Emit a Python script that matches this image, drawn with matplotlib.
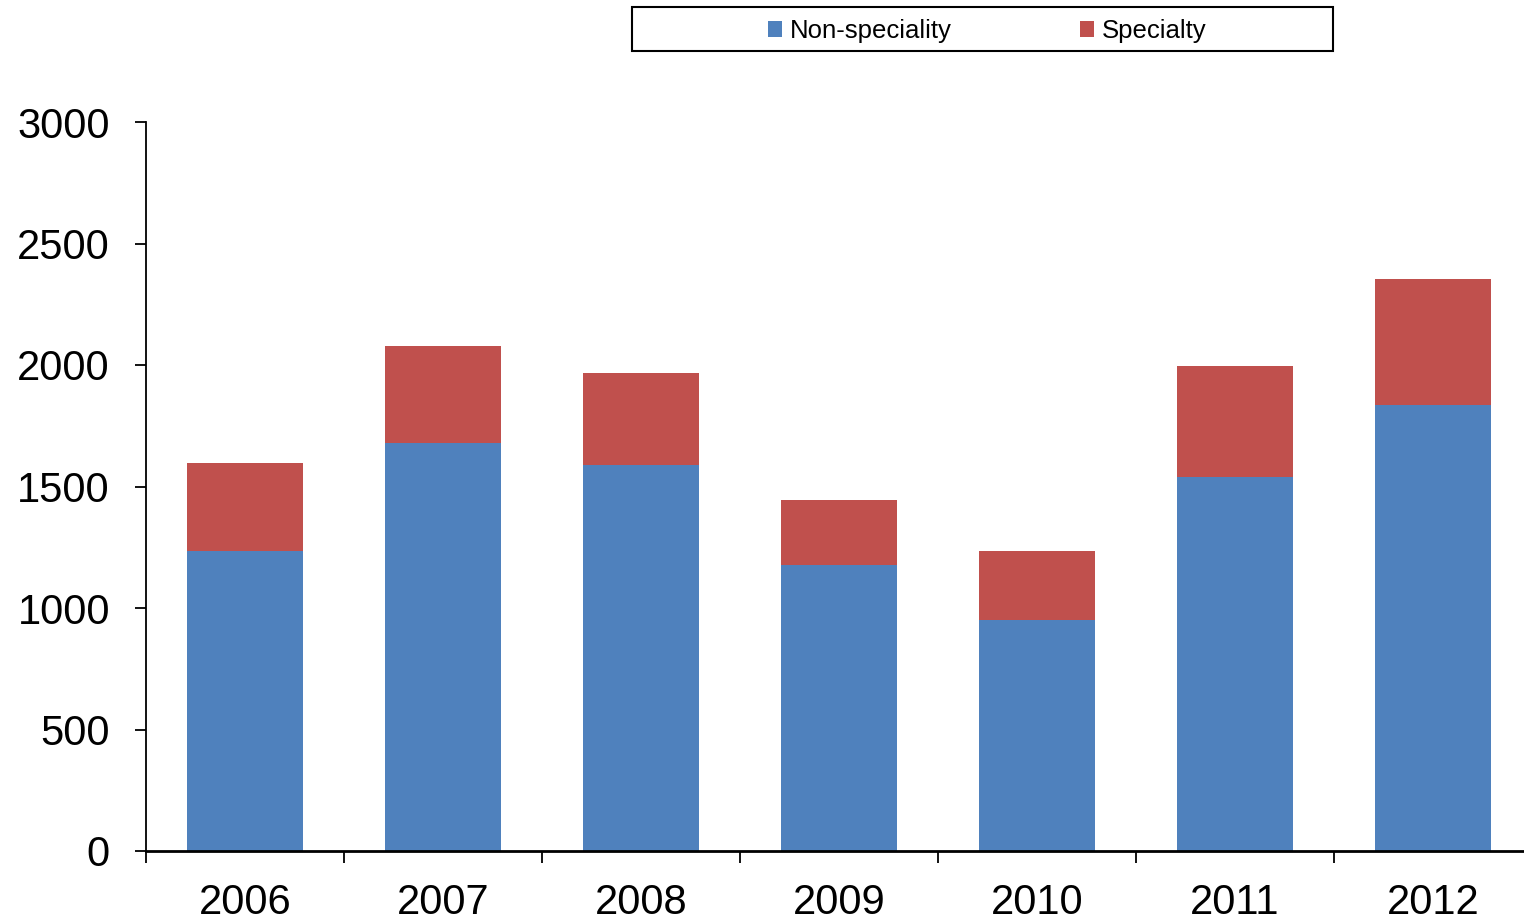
import numpy as np
import matplotlib.pyplot as plt
from matplotlib.patches import Rectangle

plt.rcParams['font.family'] = ['Liberation Sans', 'DejaVu Sans']

years = ['2006', '2007', '2008', '2009', '2010', '2011', '2012']
non_speciality = [1235, 1679, 1588, 1177, 951, 1539, 1835]
specialty = [362, 399, 379, 267, 284, 457, 519]

colors = ['#4F81BD', '#C0504D']

W, H = 1524, 923
fig = plt.figure(figsize=(W / 100, H / 100), dpi=100)
# axes run a bit past the right edge of the figure, like the original
ax = fig.add_axes([146 / W, (H - 851) / H, 1386 / W, 729 / H])

x = np.arange(len(years))
b1 = ax.bar(x, non_speciality, width=0.585, color=colors[0], label='Non-speciality')
b2 = ax.bar(x, specialty, width=0.585, bottom=non_speciality, color=colors[1], label='Specialty')

ax.set_xlim(-0.5, len(years) - 0.5)
ax.set_ylim(0, 3000)
ax.set_yticks(np.arange(0, 3001, 500))
ax.set_xticks(x)
ax.set_xticklabels(years)
ax.set_xticks(np.arange(-0.5, len(years)), minor=True)

for s in ['top', 'right']:
    ax.spines[s].set_visible(False)
ax.spines['left'].set_linewidth(1.3)
ax.spines['bottom'].set_linewidth(2)

ax.tick_params(axis='y', direction='out', length=8, width=1.3, pad=18, labelsize=30)
ax.tick_params(axis='x', which='major', length=0, pad=23, labelsize=30)
ax.tick_params(axis='x', which='minor', direction='out', length=8.5, width=1.3)

# legend box
fig.patches.append(Rectangle((632 / W, 1 - 51 / H), (1333 - 632) / W, 44 / H,
                             transform=fig.transFigure, fill=False,
                             edgecolor='black', linewidth=1.5))
fig.legend(handles=[b1, b2], loc='center', bbox_to_anchor=(987 / W, 1 - 31 / H),
           ncol=2, frameon=False, fontsize=18.5, handlelength=0.55, handleheight=0.55,
           handletextpad=0.3, columnspacing=5.0, borderpad=0)

fig.savefig('out.png', dpi=100)
